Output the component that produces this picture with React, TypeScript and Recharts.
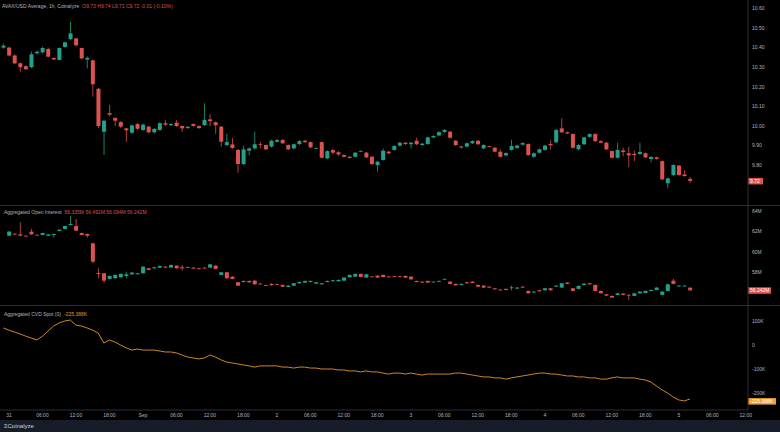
import { ComposedChart, Bar, Line, XAxis, YAxis, ReferenceLine } from 'recharts';

// hour index 0 = 31 Aug 00:00 (1h candles)
const PRICE_START = -1;
const PRICE_O = [10.40, 10.40, 10.36, 10.32, 10.305, 10.30, 10.371, 10.376, 10.393, 10.347, 10.337, 10.403, 10.443, 10.447, 10.398, 10.339, 10.335, 10.19, 9.971, 10.066, 10.041, 10.02, 9.988, 9.966, 10.01, 9.98, 9.997, 9.968, 9.98, 10.014, 10.004, 10.017, 10.0, 9.99, 10.01, 10.0, 10.005, 10.034, 10.019, 9.997, 9.903, 9.906, 9.878, 9.806, 9.874, 9.886, 9.907, 9.903, 9.895, 9.92, 9.929, 9.903, 9.886, 9.908, 9.925, 9.918, 9.886, 9.918, 9.835, 9.877, 9.866, 9.852, 9.843, 9.843, 9.871, 9.864, 9.843, 9.80, 9.827, 9.869, 9.878, 9.90, 9.915, 9.907, 9.925, 9.903, 9.908, 9.942, 9.952, 9.97, 9.971, 9.925, 9.895, 9.895, 9.912, 9.925, 9.886, 9.898, 9.889, 9.869, 9.85, 9.878, 9.888, 9.905, 9.908, 9.843, 9.864, 9.878, 9.908, 9.917, 9.988, 9.968, 9.959, 9.881, 9.907, 9.945, 9.959, 9.923, 9.915, 9.872, 9.838, 9.875, 9.861, 9.858, 9.857, 9.861, 9.832, 9.84, 9.821, 9.708, 9.75, 9.798, 9.753, 9.73];
const PRICE_H = [10.42, 10.405, 10.365, 10.325, 10.31, 10.38, 10.385, 10.405, 10.40, 10.35, 10.40, 10.43, 10.532, 10.45, 10.40, 10.355, 10.34, 10.195, 10.03, 10.107, 10.045, 10.025, 9.99, 10.008, 10.015, 10.012, 10.0, 9.99, 10.02, 10.03, 10.015, 10.03, 10.003, 10.0, 10.014, 10.003, 10.116, 10.06, 10.023, 10.0, 9.96, 9.94, 9.882, 9.90, 9.89, 9.971, 9.92, 9.906, 9.93, 9.933, 9.933, 9.906, 9.91, 9.928, 9.93, 9.921, 9.89, 9.921, 9.876, 9.885, 9.872, 9.855, 9.846, 9.867, 9.876, 9.867, 9.846, 9.822, 9.885, 9.873, 9.902, 9.919, 9.918, 9.919, 9.94, 9.914, 9.946, 9.953, 9.973, 9.984, 9.975, 9.928, 9.90, 9.916, 9.927, 9.928, 9.907, 9.90, 9.892, 9.88, 9.866, 9.93, 9.904, 9.917, 9.911, 9.865, 9.885, 9.904, 9.927, 9.984, 10.039, 9.972, 9.963, 9.907, 9.946, 9.963, 9.963, 9.927, 9.918, 9.876, 9.915, 9.89, 9.895, 9.875, 9.915, 9.865, 9.846, 9.844, 9.825, 9.737, 9.805, 9.802, 9.775, 9.74];
const PRICE_L = [10.395, 10.355, 10.315, 10.277, 10.285, 10.295, 10.365, 10.37, 10.35, 10.335, 10.335, 10.40, 10.44, 10.405, 10.34, 10.294, 10.15, 9.99, 9.852, 10.05, 10.0, 9.99, 9.92, 9.96, 9.98, 9.975, 9.962, 9.962, 9.975, 10.0, 10.0, 9.995, 9.97, 9.985, 9.997, 9.985, 10.0, 10.0, 9.96, 9.895, 9.898, 9.884, 9.762, 9.80, 9.85, 9.88, 9.885, 9.877, 9.89, 9.915, 9.908, 9.877, 9.882, 9.902, 9.914, 9.887, 9.883, 9.834, 9.83, 9.855, 9.848, 9.84, 9.834, 9.84, 9.868, 9.836, 9.80, 9.767, 9.823, 9.857, 9.874, 9.896, 9.904, 9.885, 9.903, 9.899, 9.904, 9.938, 9.948, 9.966, 9.936, 9.898, 9.885, 9.891, 9.908, 9.903, 9.882, 9.892, 9.865, 9.838, 9.845, 9.874, 9.884, 9.901, 9.848, 9.838, 9.86, 9.874, 9.88, 9.913, 9.964, 9.958, 9.885, 9.877, 9.903, 9.941, 9.919, 9.911, 9.877, 9.834, 9.834, 9.846, 9.79, 9.82, 9.853, 9.836, 9.815, 9.828, 9.724, 9.682, 9.746, 9.746, 9.741, 9.71];
const PRICE_C = [10.41, 10.36, 10.32, 10.30, 10.29, 10.366, 10.379, 10.398, 10.354, 10.34, 10.398, 10.427, 10.473, 10.412, 10.345, 10.348, 10.213, 10.0, 10.027, 10.058, 10.027, 9.997, 9.978, 10.003, 9.986, 10.007, 9.968, 9.985, 10.014, 10.007, 10.01, 10.0, 9.988, 9.996, 10.0, 9.99, 10.031, 10.025, 10.004, 9.92, 9.918, 9.888, 9.806, 9.881, 9.886, 9.907, 9.903, 9.881, 9.925, 9.929, 9.912, 9.881, 9.907, 9.923, 9.918, 9.891, 9.887, 9.838, 9.872, 9.864, 9.855, 9.843, 9.837, 9.864, 9.873, 9.84, 9.806, 9.818, 9.874, 9.861, 9.898, 9.915, 9.908, 9.915, 9.907, 9.91, 9.942, 9.949, 9.969, 9.98, 9.94, 9.903, 9.89, 9.912, 9.923, 9.907, 9.903, 9.895, 9.869, 9.843, 9.862, 9.898, 9.90, 9.913, 9.852, 9.861, 9.881, 9.90, 9.902, 9.98, 9.968, 9.962, 9.889, 9.903, 9.942, 9.959, 9.923, 9.915, 9.881, 9.838, 9.878, 9.867, 9.85, 9.852, 9.867, 9.84, 9.842, 9.832, 9.728, 9.733, 9.801, 9.75, 9.745, 9.72];

// open interest, millions
const OI_START = 0;
const OI_O = [61.6, 61.79, 61.73, 61.6, 62.0, 61.69, 61.67, 61.6, 61.67, 62.06, 62.26, 62.65, 62.55, 61.86, 61.77, 60.85, 57.95, 57.91, 57.36, 57.42, 57.52, 57.65, 57.81, 57.81, 57.91, 58.4, 58.4, 58.47, 58.56, 58.47, 58.66, 58.5, 58.52, 58.47, 58.4, 58.47, 58.47, 58.66, 57.75, 58.01, 57.58, 57.03, 57.16, 57.16, 57.19, 56.9, 56.76, 56.87, 56.85, 56.77, 56.57, 56.7, 56.93, 57.0, 57.06, 56.9, 56.83, 57.16, 57.13, 57.13, 57.19, 57.52, 57.58, 57.85, 57.49, 57.6, 57.68, 57.75, 57.6, 57.62, 57.62, 57.65, 57.58, 57.16, 57.09, 57.16, 57.06, 57.09, 57.33, 57.09, 56.87, 56.77, 57.03, 57.09, 56.77, 56.7, 56.6, 56.44, 56.3, 56.38, 56.53, 56.41, 56.6, 56.18, 56.02, 56.25, 56.25, 56.44, 56.6, 56.51, 57.0, 56.44, 56.38, 56.77, 56.93, 56.77, 56.18, 55.85, 55.69, 55.79, 55.92, 55.8, 55.69, 55.95, 55.98, 56.18, 56.28, 55.79, 56.18, 57.19, 56.65, 56.65, 56.5];
const OI_C = [62.0, 61.75, 61.6, 61.56, 61.73, 61.66, 61.86, 61.73, 61.77, 62.19, 62.55, 62.75, 62.09, 61.67, 61.6, 59.05, 57.85, 57.19, 57.65, 57.75, 57.85, 57.81, 57.98, 57.91, 58.56, 58.24, 58.5, 58.63, 58.47, 58.73, 58.4, 58.4, 58.48, 58.37, 58.34, 58.4, 58.79, 58.34, 58.01, 57.42, 57.36, 56.7, 57.06, 57.03, 56.83, 56.85, 56.72, 56.74, 56.81, 56.6, 56.7, 56.93, 57.06, 57.16, 57.16, 57.03, 56.93, 57.06, 57.22, 57.26, 57.49, 57.75, 57.85, 57.55, 57.81, 57.56, 57.49, 57.55, 57.55, 57.58, 57.56, 57.49, 57.32, 57.06, 57.0, 57.0, 57.09, 57.16, 57.36, 56.87, 56.74, 56.87, 56.93, 56.96, 56.6, 56.51, 56.51, 56.34, 56.26, 56.28, 56.49, 56.51, 56.51, 55.95, 56.11, 56.15, 56.44, 56.25, 56.7, 56.93, 56.87, 56.18, 56.67, 56.9, 56.83, 56.18, 55.95, 55.72, 55.53, 55.95, 55.79, 55.77, 55.95, 56.11, 56.18, 56.28, 56.51, 56.11, 56.83, 56.87, 56.7, 56.7, 56.24];
const OI_H = [62.05, 61.85, 62.91, 61.62, 62.26, 61.72, 61.9, 61.76, 61.8, 62.22, 62.6, 63.53, 63.24, 61.9, 61.8, 60.9, 58.4, 57.95, 57.7, 57.8, 57.9, 58.07, 58.02, 57.95, 58.6, 58.45, 58.54, 58.67, 58.6, 58.77, 58.7, 58.73, 58.56, 58.5, 58.43, 58.5, 58.83, 58.7, 58.05, 58.05, 57.62, 57.07, 57.2, 57.2, 57.23, 56.95, 56.8, 56.91, 56.9, 56.81, 56.73, 56.97, 57.1, 57.2, 57.2, 57.07, 56.97, 57.2, 57.26, 57.3, 57.53, 57.79, 57.89, 57.9, 57.85, 57.64, 57.72, 57.79, 57.64, 57.66, 57.66, 57.69, 57.62, 57.2, 57.13, 57.2, 57.13, 57.2, 57.4, 57.13, 56.91, 56.91, 57.07, 57.13, 56.81, 56.74, 56.64, 56.48, 56.34, 56.42, 56.7, 56.55, 56.64, 56.22, 56.15, 56.29, 56.48, 56.48, 56.74, 56.97, 57.04, 56.48, 56.71, 56.94, 56.97, 56.81, 56.22, 55.89, 55.73, 55.99, 55.96, 55.84, 55.99, 56.15, 56.22, 56.32, 56.55, 56.15, 56.87, 57.36, 56.74, 56.74, 56.54];
const OI_L = [61.55, 61.7, 61.56, 61.5, 61.69, 61.62, 61.63, 61.56, 61.41, 62.02, 62.22, 62.61, 62.05, 61.63, 61.41, 58.89, 57.42, 56.93, 57.32, 57.38, 57.48, 57.42, 57.77, 57.77, 57.87, 58.2, 58.36, 58.43, 58.43, 58.43, 58.36, 58.15, 58.44, 58.33, 58.3, 58.36, 58.43, 58.3, 57.71, 57.38, 57.32, 56.66, 57.02, 56.99, 56.79, 56.81, 56.68, 56.7, 56.77, 56.56, 56.53, 56.66, 56.89, 56.96, 57.02, 56.86, 56.79, 57.02, 57.09, 57.09, 57.15, 57.48, 57.54, 57.51, 57.45, 57.52, 57.45, 57.51, 57.51, 57.54, 57.52, 57.45, 57.28, 57.02, 56.96, 56.96, 57.02, 57.05, 57.29, 56.83, 56.7, 56.73, 56.89, 56.92, 56.56, 56.47, 56.47, 56.3, 56.22, 56.24, 56.24, 56.37, 56.47, 55.91, 55.98, 56.11, 56.21, 56.21, 56.56, 56.47, 56.83, 56.14, 56.34, 56.73, 56.79, 56.14, 55.91, 55.68, 55.49, 55.75, 55.75, 55.3, 55.65, 55.91, 55.94, 56.14, 56.24, 55.75, 56.14, 56.83, 56.61, 56.61, 56.2];

// aggregated CVD spot, thousands
const CVD_START = -1;
const CVD = [71, 62, 54, 46, 37, 29, 21, 37, 58, 79, 92, 100, 104, 83, 79, 71, 62, 50, 8, 21, 12, 0, -12, -21, -17, -21, -21, -21, -25, -29, -29, -33, -42, -50, -54, -58, -54, -42, -50, -62, -71, -75, -79, -83, -87, -92, -87, -87, -87, -87, -92, -92, -96, -92, -92, -96, -96, -100, -100, -100, -104, -104, -108, -108, -112, -108, -112, -112, -117, -121, -117, -117, -121, -117, -121, -125, -121, -121, -121, -121, -121, -117, -117, -121, -125, -129, -133, -133, -137, -137, -142, -137, -133, -129, -125, -121, -117, -117, -121, -121, -125, -129, -129, -133, -133, -137, -137, -142, -142, -137, -133, -137, -137, -137, -142, -146, -154, -171, -187, -200, -217, -229, -233, -225];

const TICK_HOURS = [0, 6, 12, 18, 24, 30, 36, 42, 48, 54, 60, 66, 72, 78, 84, 90, 96, 102, 108, 114, 120, 126, 132];
const TICK_LABELS = ['31', '06:00', '12:00', '18:00', 'Sep', '06:00', '12:00', '18:00', '2', '06:00', '12:00', '18:00', '3', '06:00', '12:00', '18:00', '4', '06:00', '12:00', '18:00', '5', '06:00', '12:00'];

const PRICE_TICKS = [9.6, 9.8, 9.9, 10.0, 10.1, 10.2, 10.3, 10.4, 10.5, 10.6];
const OI_TICKS = [58, 60, 62, 64];
const CVD_TICKS = [-200, -100, 0, 100];

const UP = '#22a08c';
const DOWN = '#dc524e';
const CVD_COLOR = '#e3962a';
const GRID = '#2a2e39';
const TXT = '#b2b5be';
const FONT = '"Liberation Sans", Arial, sans-serif';
const X_DOMAIN = [-1.6, 132.4];

const priceData = PRICE_O.map((o, i) => ({
  h: PRICE_START + i, o, c: PRICE_C[i], hi: PRICE_H[i], lo: PRICE_L[i], range: [PRICE_L[i], PRICE_H[i]],
}));
const oiData = OI_O.map((o, i) => ({
  h: OI_START + i, o, c: OI_C[i], hi: OI_H[i], lo: OI_L[i], range: [OI_L[i], OI_H[i]],
}));
const cvdData = CVD.map((v, i) => ({ h: CVD_START + i, v }));

const Candle = (props: any) => {
  const { x, y, width, height, payload } = props;
  const { o, c, hi, lo } = payload;
  const color = c >= o ? UP : DOWN;
  const top = Math.min(y, y + height);
  const bot = Math.max(y, y + height);
  const k = hi - lo > 0 ? (bot - top) / (hi - lo) : 0;
  const yo = top + (hi - o) * k;
  const yc = top + (hi - c) * k;
  const cx = x + width / 2;
  return (
    <g>
      <line x1={cx} x2={cx} y1={top} y2={bot} stroke={color} strokeWidth={0.8} />
      <rect x={x} y={Math.min(yo, yc)} width={width} height={Math.max(Math.abs(yo - yc), 0.8)} fill={color} />
    </g>
  );
};

const Tag = (props: any) => {
  const { viewBox, text, bg, w, dy = 0 } = props;
  if (!viewBox) return null;
  const x = viewBox.x + viewBox.width;
  const y = viewBox.y + dy;
  return (
    <g>
      <rect x={x} y={y - 3} width={w} height={6.5} fill={bg} />
      <text x={x + 2} y={y + 2} fontSize={5} fill="#fff" fontFamily={FONT}>{text}</text>
    </g>
  );
};

const yAxisProps = {
  orientation: 'right' as const,
  width: 32,
  tickLine: false,
  tickSize: 2,
  tickMargin: 2,
  axisLine: { stroke: GRID },
  tick: { fill: TXT, fontSize: 5, fontFamily: FONT },
  allowDataOverflow: true,
  type: 'number' as const,
};

const fmtK = (v: number) => (v === 0 ? '0' : `${v}K`);

export default function App() {
  return (
    <div style={{ position: 'absolute', left: 0, top: 0, width: 780, height: 432, background: '#000', overflow: 'hidden', fontFamily: FONT }}>
      <div style={{ position: 'absolute', left: 0, top: 0 }}>
        <ComposedChart width={780} height={205} data={priceData} margin={{ top: 0, right: 0, left: 0, bottom: 0 }}>
          <XAxis dataKey="h" type="number" domain={X_DOMAIN} allowDataOverflow hide />
          <YAxis {...yAxisProps} domain={[9.597, 10.643]} ticks={PRICE_TICKS} tickFormatter={(v: number) => v.toFixed(2)} />
          <Bar dataKey="range" barSize={4} shape={Candle} isAnimationActive={false} />
          <ReferenceLine y={9.72} stroke="none" label={<Tag text="9.72" bg="#e0534f" w={15} />} />
        </ComposedChart>
      </div>
      <div style={{ position: 'absolute', left: 0, top: 205, width: 780, borderTop: `1px solid ${GRID}` }} />
      <div style={{ position: 'absolute', left: 0, top: 205 }}>
        <ComposedChart width={780} height={100} data={oiData} margin={{ top: 0, right: 0, left: 0, bottom: 0 }}>
          <XAxis dataKey="h" type="number" domain={X_DOMAIN} allowDataOverflow hide />
          <YAxis {...yAxisProps} domain={[54.8, 64.61]} ticks={OI_TICKS} tickFormatter={(v: number) => `${v}M`} />
          <Bar dataKey="range" barSize={4} shape={Candle} isAnimationActive={false} />
          <ReferenceLine y={56.242} stroke="none" label={<Tag text="56.242M" bg="#e0534f" w={23} />} />
        </ComposedChart>
      </div>
      <div style={{ position: 'absolute', left: 0, top: 305, width: 780, borderTop: `1px solid ${GRID}` }} />
      <div style={{ position: 'absolute', left: 0, top: 305 }}>
        <ComposedChart width={780} height={115} data={cvdData} margin={{ top: 0, right: 0, left: 0, bottom: 0 }}>
          <XAxis
            dataKey="h"
            type="number"
            domain={X_DOMAIN}
            allowDataOverflow
            ticks={TICK_HOURS}
            interval={0}
            height={10}
            tickLine={false}
            tickSize={2}
            tickMargin={1}
            axisLine={{ stroke: GRID }}
            tick={{ fill: TXT, fontSize: 5, fontFamily: FONT }}
            tickFormatter={(v: number) => TICK_LABELS[TICK_HOURS.indexOf(v)] ?? ''}
          />
          <YAxis {...yAxisProps} domain={[-270.8, 166.7]} ticks={CVD_TICKS} tickFormatter={fmtK} />
          <Line dataKey="v" type="linear" stroke={CVD_COLOR} strokeWidth={0.9} dot={false} isAnimationActive={false} />
          <ReferenceLine y={-225.388} stroke="none" label={<Tag text="-225.388K" bg="#f0a030" w={28} dy={2} />} />
        </ComposedChart>
      </div>
      <div style={{ position: 'absolute', left: 2, top: 3, fontSize: 5, color: TXT, whiteSpace: 'nowrap', lineHeight: '6px' }}>
        AVAX/USD Average, 1h, Coinalyze
        <span style={{ color: DOWN, marginLeft: 3 }}>O9.73 H9.74 L9.71 C9.72 -0.01 (-0.10%)</span>
      </div>
      <div style={{ position: 'absolute', left: 4, top: 209, fontSize: 5, color: TXT, whiteSpace: 'nowrap', lineHeight: '6px' }}>
        Aggregated Open Interest
        <span style={{ color: DOWN, marginLeft: 3 }}>56.335M 56.491M 56.094M 56.242M</span>
      </div>
      <div style={{ position: 'absolute', left: 4, top: 311, fontSize: 5, color: TXT, whiteSpace: 'nowrap', lineHeight: '6px' }}>
        Aggregated CVD Spot (0)
        <span style={{ color: CVD_COLOR, marginLeft: 3 }}>-225.388K</span>
      </div>
      <div style={{ position: 'absolute', left: 0, top: 420, width: 780, height: 12, background: '#181c28' }}>
        <div style={{ position: 'absolute', left: 4, top: 3, fontSize: 6, color: '#d1d4dc', lineHeight: '7px' }}>
          ≡Coinalyze
        </div>
      </div>
    </div>
  );
}
